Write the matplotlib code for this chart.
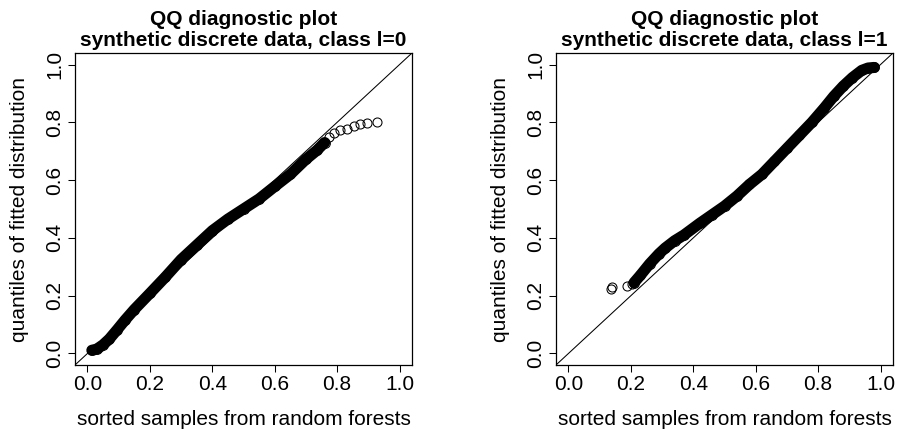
import matplotlib
matplotlib.use("Agg")
import matplotlib.pyplot as plt

plt.rcParams["font.family"] = ["Liberation Sans", "DejaVu Sans"]

# class l=0: dense part of the QQ curve, then the sparse upper tail
x0_band = [0.014, 0.03, 0.05, 0.07, 0.095, 0.12, 0.15, 0.20, 0.25, 0.30, 0.35, 0.40,
           0.45, 0.50, 0.55, 0.60, 0.65, 0.70, 0.735, 0.76]
y0_band = [0.011, 0.015, 0.03, 0.05, 0.082, 0.115, 0.152, 0.208, 0.265, 0.325, 0.375, 0.425,
           0.465, 0.50, 0.535, 0.578, 0.62, 0.672, 0.703, 0.73]
x0_tail = [0.775, 0.789, 0.81, 0.831, 0.853, 0.874, 0.895, 0.928]
y0_tail = [0.75, 0.764, 0.772, 0.778, 0.787, 0.793, 0.799, 0.802]

# class l=1: sparse lower tail, then the dense part
x1_tail = [0.136, 0.141, 0.189, 0.205]
y1_tail = [0.223, 0.230, 0.234, 0.240]
x1_band = [0.21, 0.23, 0.26, 0.29, 0.31, 0.34, 0.37, 0.42, 0.46, 0.50, 0.54, 0.58,
           0.62, 0.66, 0.70, 0.74, 0.78, 0.82, 0.85, 0.88, 0.91, 0.94, 0.96, 0.98]
y1_band = [0.245, 0.27, 0.31, 0.345, 0.365, 0.39, 0.41, 0.45, 0.48, 0.51, 0.545, 0.585,
           0.62, 0.665, 0.71, 0.755, 0.80, 0.85, 0.89, 0.925, 0.955, 0.98, 0.988, 0.99]

ticks = [0.0, 0.2, 0.4, 0.6, 0.8, 1.0]
tick_labels = ["0.0", "0.2", "0.4", "0.6", "0.8", "1.0"]

panels = [
    ("QQ diagnostic plot\nsynthetic discrete data, class l=0", x0_band, y0_band, x0_tail, y0_tail),
    ("QQ diagnostic plot\nsynthetic discrete data, class l=1", x1_band, y1_band, x1_tail, y1_tail),
]

fig = plt.figure(figsize=(8.97, 4.30), dpi=100)
lefts = [75 / 897, 556 / 897]
for left, (title, xb, yb, xt, yt) in zip(lefts, panels):
    ax = fig.add_axes([left, 65 / 430, 337 / 897, 312 / 430])
    ax.set_xlim(-0.04, 1.04)
    ax.set_ylim(-0.04, 1.04)
    ax.plot([-0.04, 1.04], [-0.04, 1.04], color="black", lw=0.75, zorder=1)
    # solid band where the circles overlap completely
    ax.plot(xb, yb, color="black", lw=8, solid_capstyle="round", zorder=2)
    ax.plot(xb, yb, "o", mfc="none", mec="black", mew=0.75, ms=7, zorder=3)
    ax.plot(xt, yt, "o", mfc="none", mec="black", mew=0.75, ms=6.5, zorder=3)

    ax.set_xticks(ticks)
    ax.set_xticklabels(tick_labels)
    ax.set_yticks(ticks)
    ax.set_yticklabels(tick_labels, rotation=90, va="center")
    ax.tick_params(axis="both", labelsize=15, length=5, width=0.75, direction="out", pad=2.5)
    for s in ax.spines.values():
        s.set_linewidth(0.9)
    ax.set_xlabel("sorted samples from random forests", fontsize=15, labelpad=11)
    ax.set_ylabel("quantiles of fitted distribution", fontsize=15, labelpad=12)
    ax.set_title(title, fontsize=15, fontweight="bold", pad=5, linespacing=1.12)

fig.savefig("out.png", dpi=100)
